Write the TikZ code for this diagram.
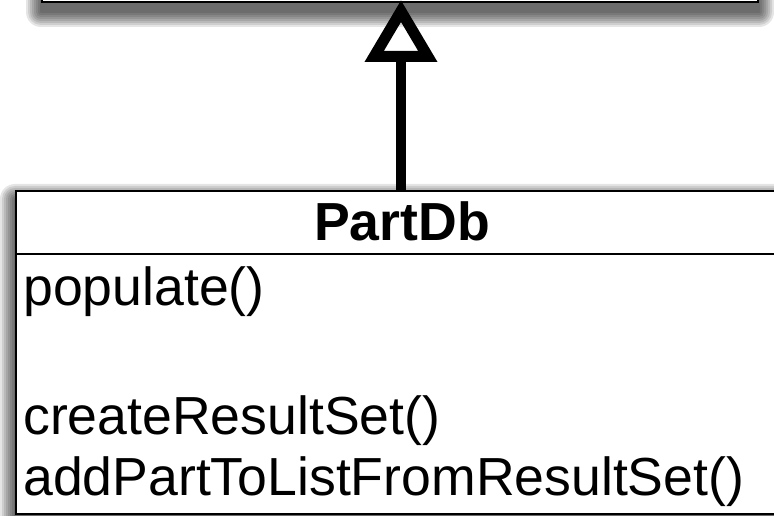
\documentclass[tikz,border=0pt]{standalone}
\usepackage{fontspec}
\setmainfont{Liberation Sans}
\usetikzlibrary{arrows.meta,backgrounds}

\begin{document}
\begin{tikzpicture}[x=1pt,y=1pt,
  umlbox/.style={draw=black, line width=2pt, fill=white, inner sep=0pt},
  boxline/.style={draw=black, line width=2pt},
  member/.style={inner sep=0pt, anchor=base west},
  inherit/.style={line width=10pt, shorten >=-3pt,
    -{Triangle[open, length=62pt, width=70pt, line width=11pt]}},
  boxshade/.style={fill=black, opacity=0.1}
]
\useasboundingbox (0,0) rectangle (774,515);
\fontsize{53.6}{61}\selectfont

% superclass (mostly above the page) and the PartDb class
\node[umlbox, minimum width=716pt, minimum height=120pt, anchor=south] (super) at (400,512) {};
\node[umlbox, minimum width=774pt, minimum height=323pt, anchor=north west] (sub) at (15,325) {};
\draw[boxline] ([yshift=-64pt]sub.north west) -- ([yshift=-64pt]sub.north east);

\node[inner sep=0pt, anchor=base, font=\bfseries] (name) at (402,274) {PartDb};
\node[member] (m1) at (23,210) {populate()};
\node[member] (m2) at (23,81) {createResultSet()};
\node[member] (m3) at (23,20) {addPartToListFromResultSet()};

% soft shadows behind both boxes
\begin{scope}[on background layer]
  \foreach \b in {super,sub}{
    \foreach \r in {1,3,...,15}{
      \fill[boxshade, rounded corners=\r pt]
        ([xshift=-\r pt, yshift=-9pt-\r pt]\b.south west) rectangle
        ([xshift=\r pt, yshift=-9pt+\r pt]\b.north east);
    }
  }
\end{scope}

% generalization arrow
\coordinate (ax) at (401,0);
\draw[inherit] (sub.north -| ax) -- (super.south -| ax);
\end{tikzpicture}
\end{document}
